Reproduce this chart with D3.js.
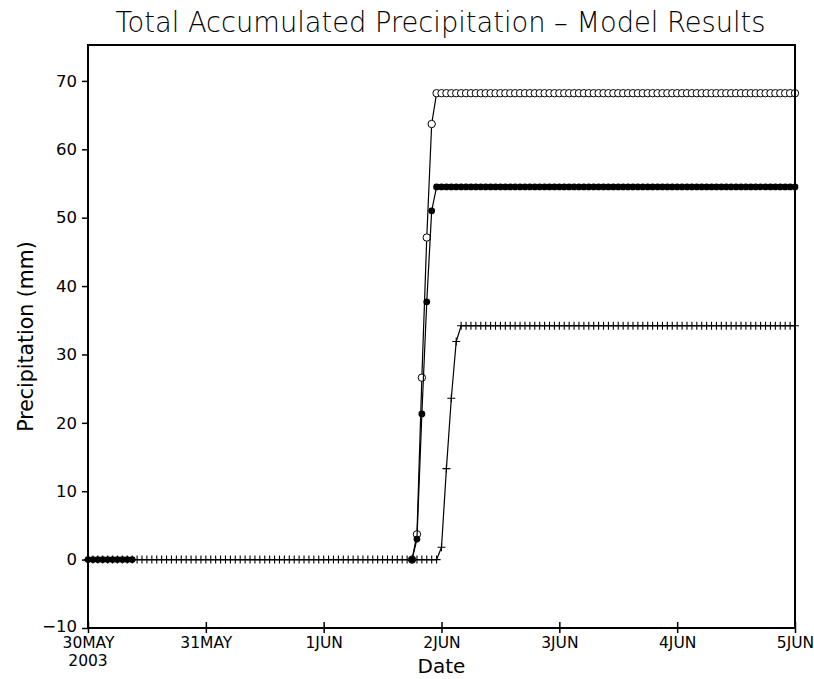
<!DOCTYPE html>
<html>
<head>
<meta charset="utf-8">
<script src="https://cdn.jsdelivr.net/npm/d3@7"></script>
<style>
  html, body { margin: 0; padding: 0; background: #fff; }
  svg { display: block; }
  text { fill: #000; }
</style>
</head>
<body>
<svg id="chart" width="814" height="679"></svg>
<script>
// ---------------- DATA ----------------
const startDate = "2003-05-30T00:00:00Z";
const endDate   = "2003-06-05T00:00:00Z";
// one value per hour, hour 0 = 30MAY 00Z ... hour 144 = 5JUN 00Z
const plusSeries = [
  0,0,0,0,0,0,0,0,0,0,
  0,0,0,0,0,0,0,0,0,0,
  0,0,0,0,0,0,0,0,0,0,
  0,0,0,0,0,0,0,0,0,0,
  0,0,0,0,0,0,0,0,0,0,
  0,0,0,0,0,0,0,0,0,0,
  0,0,0,0,0,0,0,0,0,0,
  0,0,
  1.8,13.3,23.6,31.9,
  34.2,34.2,34.2,34.2,34.2,34.2,34.2,34.2,34.2,34.2,
  34.2,34.2,34.2,34.2,34.2,34.2,34.2,34.2,34.2,34.2,
  34.2,34.2,34.2,34.2,34.2,34.2,34.2,34.2,34.2,34.2,
  34.2,34.2,34.2,34.2,34.2,34.2,34.2,34.2,34.2,34.2,
  34.2,34.2,34.2,34.2,34.2,34.2,34.2,34.2,34.2,34.2,
  34.2,34.2,34.2,34.2,34.2,34.2,34.2,34.2,34.2,34.2,
  34.2,34.2,34.2,34.2,34.2,34.2,34.2,34.2,34.2
];
const filledSeries = [
  0,0,0,0,0,0,0,0,0,0,
  null,null,null,null,null,null,null,null,null,null,
  null,null,null,null,null,null,null,null,null,null,
  null,null,null,null,null,null,null,null,null,null,
  null,null,null,null,null,null,null,null,null,null,
  null,null,null,null,null,null,null,null,null,null,
  null,null,null,null,null,null,
  0,
  3.0,21.3,37.7,51.0,
  54.5,54.5,54.5,54.5,54.5,54.5,54.5,54.5,54.5,54.5,
  54.5,54.5,54.5,54.5,54.5,54.5,54.5,54.5,54.5,54.5,
  54.5,54.5,54.5,54.5,54.5,54.5,54.5,54.5,54.5,54.5,
  54.5,54.5,54.5,54.5,54.5,54.5,54.5,54.5,54.5,54.5,
  54.5,54.5,54.5,54.5,54.5,54.5,54.5,54.5,54.5,54.5,
  54.5,54.5,54.5,54.5,54.5,54.5,54.5,54.5,54.5,54.5,
  54.5,54.5,54.5,54.5,54.5,54.5,54.5,54.5,54.5,54.5,
  54.5,54.5,54.5,54.5
];
const openSeries = [
  null,null,null,null,null,null,null,null,null,null,
  null,null,null,null,null,null,null,null,null,null,
  null,null,null,null,null,null,null,null,null,null,
  null,null,null,null,null,null,null,null,null,null,
  null,null,null,null,null,null,null,null,null,null,
  null,null,null,null,null,null,null,null,null,null,
  null,null,null,null,null,null,
  0,
  3.7,26.6,47.1,63.7,
  68.2,68.2,68.2,68.2,68.2,68.2,68.2,68.2,68.2,68.2,
  68.2,68.2,68.2,68.2,68.2,68.2,68.2,68.2,68.2,68.2,
  68.2,68.2,68.2,68.2,68.2,68.2,68.2,68.2,68.2,68.2,
  68.2,68.2,68.2,68.2,68.2,68.2,68.2,68.2,68.2,68.2,
  68.2,68.2,68.2,68.2,68.2,68.2,68.2,68.2,68.2,68.2,
  68.2,68.2,68.2,68.2,68.2,68.2,68.2,68.2,68.2,68.2,
  68.2,68.2,68.2,68.2,68.2,68.2,68.2,68.2,68.2,68.2,
  68.2,68.2,68.2,68.2
];
const yTicks = [-10, 0, 10, 20, 30, 40, 50, 60, 70];
const yDomain = [-10, 75.25];
const titleText = "Total Accumulated Precipitation \u2013 Model Results";
const xLabel = "Date";
const yLabel = "Precipitation (mm)";
const yearLabel = "2003";

// ---------------- LAYOUT ----------------
const svg = d3.select("#chart");
const L = 88, R = 795, T = 45, B = 628;
const t0 = new Date(startDate), t1 = new Date(endDate);
const x = d3.scaleUtc().domain([t0, t1]).range([L, R]);
const y = d3.scaleLinear().domain(yDomain).range([B, T]);
const toPts = arr => arr.map((v, i) => ({ t: d3.utcHour.offset(t0, i), v }));

const font = "'DejaVu Sans', 'Liberation Sans', sans-serif";

// Title
svg.append("text")
  .attr("x", (L + R) / 2 - 1).attr("y", 32)
  .attr("text-anchor", "middle")
  .attr("font-family", font).attr("font-size", 28).attr("font-weight", 300)
  .attr("textLength", 650).attr("lengthAdjust", "spacingAndGlyphs")
  .text(titleText);

// Series
const line = d3.line().defined(d => d.v != null).x(d => x(d.t)).y(d => y(d.v));
const g = svg.append("g");

function drawSeries(arr, marker) {
  const pts = toPts(arr);
  g.append("path").datum(pts).attr("d", line)
    .attr("fill", "none").attr("stroke", "#000").attr("stroke-width", 1.2);
  const m = g.append("g").selectAll("*").data(pts.filter(d => d.v != null));
  if (marker === "plus") {
    m.join("path")
      .attr("d", d => `M${x(d.t)-4},${y(d.v)}H${x(d.t)+4}M${x(d.t)},${y(d.v)-4}V${y(d.v)+4}`)
      .attr("stroke", "#000").attr("stroke-width", 1.1).attr("fill", "none");
  } else if (marker === "open") {
    m.join("circle").attr("cx", d => x(d.t)).attr("cy", d => y(d.v)).attr("r", 3.7)
      .attr("fill", "#fff").attr("stroke", "#000").attr("stroke-width", 1);
  } else {
    m.join("circle").attr("cx", d => x(d.t)).attr("cy", d => y(d.v)).attr("r", 3.4)
      .attr("fill", "#000").attr("stroke", "none");
  }
}
drawSeries(plusSeries, "plus");
drawSeries(openSeries, "open");
drawSeries(filledSeries, "filled");

// Frame
svg.append("rect").attr("x", L).attr("y", T).attr("width", R - L).attr("height", B - T)
  .attr("fill", "none").attr("stroke", "#000").attr("stroke-width", 2);

// Y axis
const yAxis = d3.axisLeft(y).tickValues(yTicks).tickSize(6).tickPadding(5)
  .tickFormat(d => d < 0 ? "\u2212" + Math.abs(d) : String(d));
const ya = svg.append("g").attr("transform", `translate(${L},0)`).call(yAxis);
ya.select(".domain").remove();
ya.selectAll(".tick line").attr("stroke", "#000").attr("stroke-width", 1.5);
ya.selectAll(".tick text").attr("font-family", font).attr("font-size", 16.5)
  .attr("fill", "#000");
ya.selectAll(".tick").filter(d => d === -10).select("text").attr("dy", "0.2em");

// X axis
const days = d3.utcDay.range(t0, d3.utcDay.offset(t1, 1));
const xAxis = d3.axisBottom(x).tickValues(days).tickSize(5).tickPadding(6)
  .tickFormat(d => d3.utcFormat("%-d%b")(d).toUpperCase());
const xa = svg.append("g").attr("transform", `translate(0,${B})`).call(xAxis);
xa.select(".domain").remove();
xa.selectAll(".tick line").attr("y1", -6).attr("y2", 5).attr("stroke", "#000").attr("stroke-width", 1.5);
xa.selectAll(".tick text").attr("font-family", font).attr("font-size", 15.5)
  .attr("fill", "#000").attr("dy", "0.6em");

svg.append("text").attr("x", L).attr("y", 666).attr("text-anchor", "middle")
  .attr("font-family", font).attr("font-size", 15.5).text(yearLabel);

// Axis titles
svg.append("text").attr("x", (L + R) / 2).attr("y", 673).attr("text-anchor", "middle")
  .attr("font-family", font).attr("font-size", 20).text(xLabel);
svg.append("text").attr("transform", `translate(33,${(T + B) / 2}) rotate(-90)`)
  .attr("text-anchor", "middle")
  .attr("font-family", font).attr("font-size", 20.5).text(yLabel);
</script>
</body>
</html>
